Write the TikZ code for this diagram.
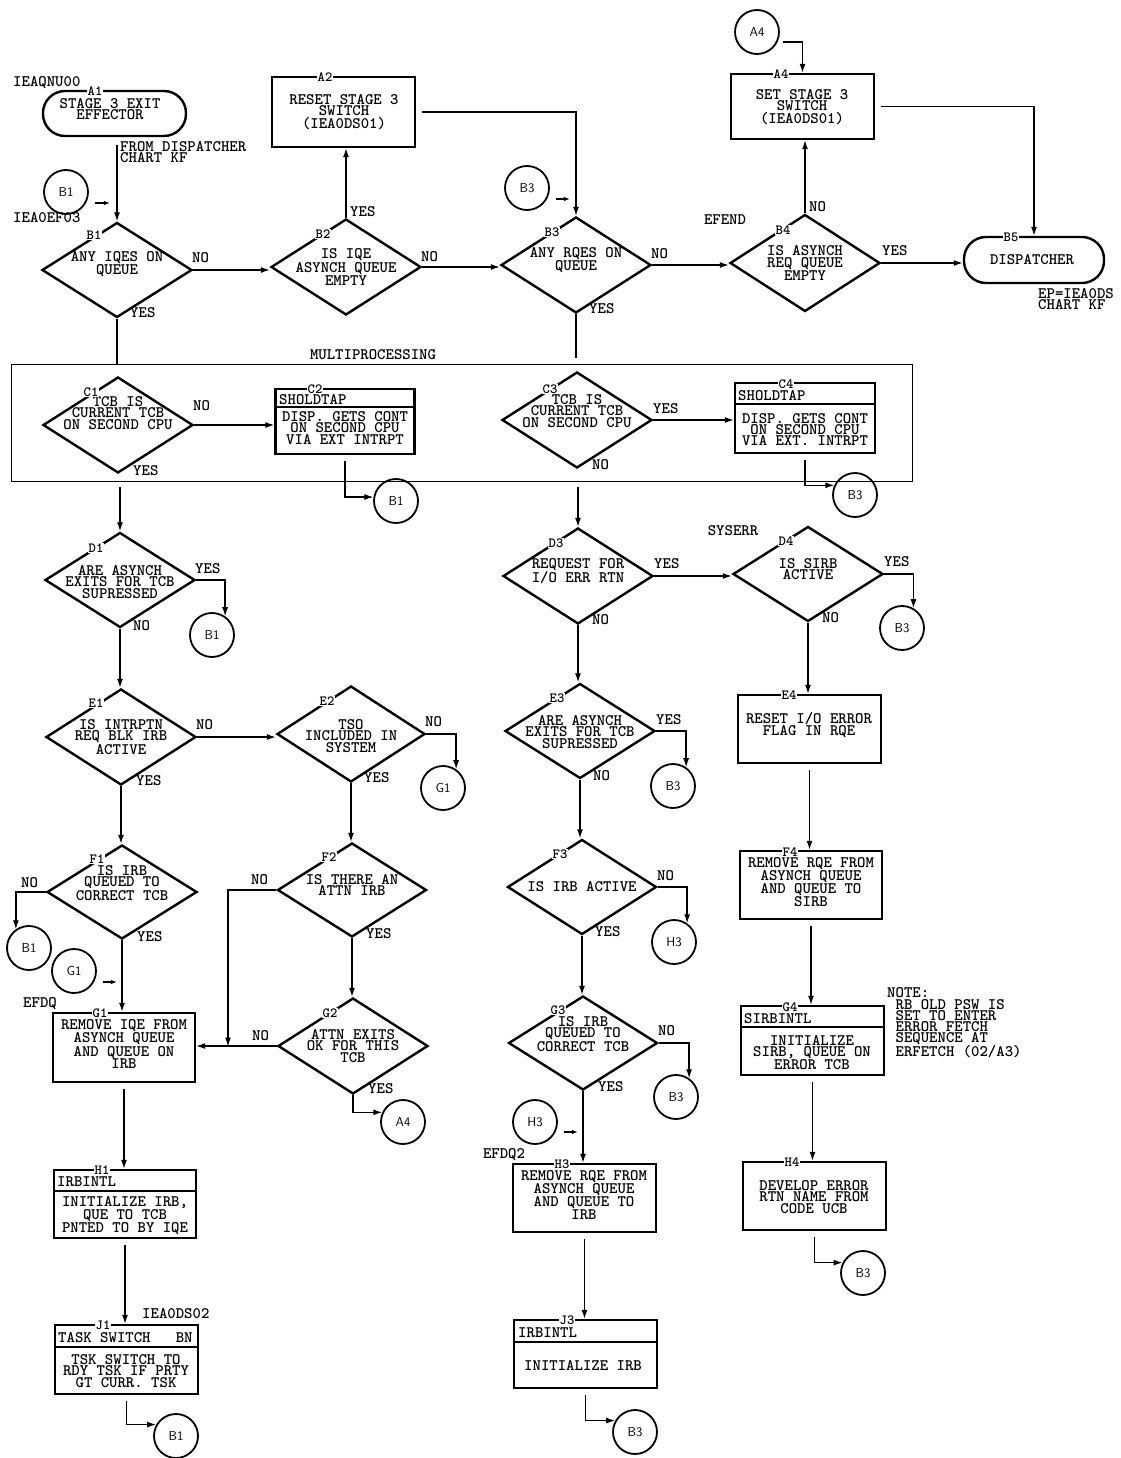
\documentclass[tikz,border=0pt]{standalone}
\usepackage{tikz}
\usetikzlibrary{
	calc,
	positioning,
	arrows.meta,
	shapes.geometric
}
\newcommand{\chartfont}{\fontsize{16}{11.2}\selectfont\ttfamily\bfseries}
\newcommand{\tagfont}{\fontsize{14}{14}\selectfont\ttfamily\bfseries}
\newcommand{\connfont}{\fontsize{13}{13}\selectfont\sffamily}

\begin{document}
\begin{tikzpicture}[
				x=1pt, y=-1pt,
				decision/.style={diamond, draw, line width=2.4pt, minimum width=150pt, minimum height=95pt, inner sep=0pt},
				process/.style={rectangle, draw, line width=2.4pt, minimum width=143pt, minimum height=68pt, inner sep=0pt},
				terminal/.style={rectangle, draw, line width=2.4pt, rounded corners=22pt, minimum width=143pt, minimum height=45pt, inner sep=0pt},
				conn/.style={circle, draw, line width=1.8pt, minimum size=44pt, inner sep=0pt, font=\connfont},
				txt/.style={align=center, inner sep=0pt, font=\chartfont},
				note/.style={align=left, inner sep=0pt, font=\chartfont},
				boxtag/.style={fill=white, inner sep=0.6pt, font=\tagfont},
				divider/.style={line width=2.4pt},
				flow/.style={line width=1.3pt},
				flowarrow/.style={flow, -{Latex[length=9pt, width=6pt]}},
				smallarrow/.style={flow, -{Latex[length=6pt, width=4.5pt]}},
				frombox/.style={shorten <=6pt}
			]
				\useasboundingbox (0,0) rectangle (1120,1458);
				% 入口和出口
				\node[terminal] (a1) at (114.5,113.5) {};
				\node[txt] (a1-text) at (110,109) {STAGE 3 EXIT\\EFFECTOR};
				\node[terminal, minimum width=140pt, minimum height=46pt] (b5) at (1034,260) {};
				\node[txt] (b5-text) at (1032,260) {DISPATCHER};
				% 第一行
				\node[process, minimum height=70pt] (a2) at (343.5,112) {};
				\node[txt] (a2-text) at (344,112) {RESET STAGE 3\\SWITCH\\(IEA0DS01)};
				\node[process, minimum height=65pt] (a4) at (802.5,106.5) {};
				\node[txt] (a4-text) at (802,107) {SET STAGE 3\\SWITCH\\(IEA0DS01)};
				\node[decision] (b1) at (117,270) {};
				\node[txt] (b1-text) at (117,264) {ANY IQES ON\\QUEUE};
				\node[decision, minimum height=96pt] (b2) at (346,267) {};
				\node[txt] (b2-text) at (346,267) {IS IQE\\ASYNCH QUEUE\\EMPTY};
				\node[decision, minimum height=96pt] (b3) at (576,265) {};
				\node[txt] (b3-text) at (576,260) {ANY RQES ON\\QUEUE};
				\node[decision, minimum height=97pt] (b4) at (805,263) {};
				\node[txt] (b4-text) at (805,263) {IS ASYNCH\\REQ QUEUE\\EMPTY};
				% 多处理框
				\node[draw, line width=1pt, minimum width=901pt, minimum height=117pt, inner sep=0pt] (mp) at (461.5,423) {};
				\node[decision, minimum height=96pt] (c1) at (118,425) {};
				\node[txt] (c1-text) at (118,413) {TCB IS\\CURRENT TCB\\ON SECOND CPU};
				\node[process, minimum width=139pt, minimum height=65pt] (c2) at (345,421.5) {};
				\draw[divider] ([yshift=-19pt]c2.north west) -- ([yshift=-19pt]c2.north east);
				\node[txt, anchor=west] (c2-head) at (279,399.5) {SHOLDTAP};
				\node[txt] (c2-text) at (345,428) {DISP. GETS CONT\\ON SECOND CPU\\VIA EXT INTRPT};
				\node[decision, minimum height=96pt] (c3) at (577,420) {};
				\node[txt] (c3-text) at (577,411) {TCB IS\\CURRENT TCB\\ON SECOND CPU};
				\node[process, minimum width=140pt, minimum height=70pt] (c4) at (805,418) {};
				\draw[divider] ([yshift=-22pt]c4.north west) -- ([yshift=-22pt]c4.north east);
				\node[txt, anchor=west] (c4-head) at (738,395.5) {SHOLDTAP};
				\node[txt] (c4-text) at (805,429.5) {DISP. GETS CONT\\ON SECOND CPU\\VIA EXT. INTRPT};
				% D 行
				\node[decision] (d1) at (120,580) {};
				\node[txt] (d1-text) at (120,582) {ARE ASYNCH\\EXITS FOR TCB\\SUPRESSED};
				\node[decision, minimum height=96pt] (d3) at (578,576) {};
				\node[txt] (d3-text) at (578,571) {REQUEST FOR\\I/O ERR RTN};
				\node[decision] (d4) at (808,574) {};
				\node[txt] (d4-text) at (808,569) {IS SIRB\\ACTIVE};
				% E 行
				\node[decision, minimum height=96pt] (e1) at (121,737) {};
				\node[txt] (e1-text) at (121,737) {IS INTRPTN\\REQ BLK IRB\\ACTIVE};
				\node[decision, minimum width=148pt, minimum height=96pt] (e2) at (351,734) {};
				\node[txt] (e2-text) at (351,736) {TSO\\INCLUDED IN\\SYSTEM};
				\node[decision] (e3) at (580,731) {};
				\node[txt] (e3-text) at (580,732) {ARE ASYNCH\\EXITS FOR TCB\\SUPRESSED};
				\node[process] (e4) at (809.5,729) {};
				\node[txt] (e4-text) at (809,725) {RESET I/O ERROR\\FLAG IN RQE};
				% F 行
				\node[decision, minimum height=94pt] (f1) at (122,892) {};
				\node[txt] (f1-text) at (122,883) {IS IRB\\QUEUED TO\\CORRECT TCB};
				\node[decision, minimum width=149pt, minimum height=94pt] (f2) at (352,890) {};
				\node[txt] (f2-text) at (352,885) {IS THERE AN\\ATTN IRB};
				\node[decision, minimum width=149pt] (f3) at (582,887) {};
				\node[txt] (f3-text) at (582,887) {IS IRB ACTIVE};
				\node[process, minimum width=142pt] (f4) at (811,885) {};
				\node[txt] (f4-text) at (811,882) {REMOVE RQE FROM\\ASYNCH QUEUE\\AND QUEUE TO\\SIRB};
				% G 行
				\node[process, minimum width=142pt, minimum height=69pt] (g1) at (124,1047.5) {};
				\node[txt] (g1-text) at (124,1044.5) {REMOVE IQE FROM\\ASYNCH QUEUE\\AND QUEUE ON\\IRB};
				\node[decision, minimum height=96pt] (g2) at (353,1046) {};
				\node[txt] (g2-text) at (353,1046) {ATTN EXITS\\OK FOR THIS\\TCB};
				\node[decision, minimum width=149pt, minimum height=94pt] (g3) at (583,1043) {};
				\node[txt] (g3-text) at (583,1034) {IS IRB\\QUEUED TO\\CORRECT TCB};
				\node[process, minimum height=69pt] (g4) at (812.5,1040.5) {};
				\draw[divider] ([yshift=-22pt]g4.north west) -- ([yshift=-22pt]g4.north east);
				\node[txt, anchor=west] (g4-head) at (744,1018.5) {SIRBINTL};
				\node[txt] (g4-text) at (812,1052.5) {INITIALIZE\\SIRB, QUEUE ON\\ERROR TCB};
				% H 行
				\node[process, minimum width=142pt] (h1) at (125,1204) {};
				\draw[divider] ([yshift=-22pt]h1.north west) -- ([yshift=-22pt]h1.north east);
				\node[txt, anchor=west] (h1-head) at (57,1181.5) {IRBINTL};
				\node[txt] (h1-text) at (125,1215.5) {INITIALIZE IRB,\\QUE TO TCB\\PNTED TO BY IQE};
				\node[process] (h3) at (584.5,1198) {};
				\node[txt] (h3-text) at (584,1195) {REMOVE RQE FROM\\ASYNCH QUEUE\\AND QUEUE TO\\IRB};
				\node[process] (h4) at (814.5,1196) {};
				\node[txt] (h4-text) at (814,1197) {DEVELOP ERROR\\RTN NAME FROM\\CODE UCB};
				% J 行
				\node[process, minimum height=69pt] (j1) at (126.5,1359.5) {};
				\draw[divider] ([yshift=-23pt]j1.north west) -- ([yshift=-23pt]j1.north east);
				\node[txt, anchor=west] (j1-head) at (58,1337.5) {TASK SWITCH~~~BN};
				\node[txt] (j1-text) at (126,1371) {TSK SWITCH TO\\RDY TSK IF PRTY\\GT CURR. TSK};
				\node[process] (j3) at (585.5,1354) {};
				\draw[divider] ([yshift=-23pt]j3.north west) -- ([yshift=-23pt]j3.north east);
				\node[txt, anchor=west] (j3-head) at (518,1332.5) {IRBINTL};
				\node[txt] (j3-text) at (583,1366) {INITIALIZE IRB};
				% 连接圆
				\node[conn] (in-a4)  at (757,32)   {A4};
				\node[conn] (in-b1)  at (66,192)   {B1};
				\node[conn] (in-b3)  at (527,188)  {B3};
				\node[conn] (out-c2) at (396,501)  {B1};
				\node[conn] (out-c4) at (855,495)  {B3};
				\node[conn] (out-d1) at (212,635)  {B1};
				\node[conn] (out-d4) at (902,628)  {B3};
				\node[conn] (out-e2) at (443,788)  {G1};
				\node[conn] (out-e3) at (673,786)  {B3};
				\node[conn] (out-f1) at (29,948)   {B1};
				\node[conn] (in-g1)  at (74,971)   {G1};
				\node[conn] (out-f3) at (674,942)  {H3};
				\node[conn] (out-g2) at (403,1122) {A4};
				\node[conn] (out-g3) at (676,1097) {B3};
				\node[conn] (in-h3)  at (535,1122) {H3};
				\node[conn] (out-h4) at (863,1273) {B3};
				\node[conn] (out-j1) at (176,1436) {B1};
				\node[conn] (out-j3) at (635,1432) {B3};
				% 旁注
				\node[txt, anchor=west] (lbl-qnu) at (13,83) {IEAQNU00};
				\node[note, anchor=west] (lbl-from) at (120,152) {FROM DISPATCHER\\CHART KF};
				\node[txt, anchor=west] (lbl-ef03) at (13,218) {IEA0EF03};
				\node[txt] (lbl-mp) at (373,355) {MULTIPROCESSING};
				\node[txt] (lbl-efend) at (725,220) {EFEND};
				\node[note, anchor=west] (lbl-ep) at (1038,299) {EP=IEA0DS\\CHART KF};
				\node[txt] (lbl-syserr) at (733,531) {SYSERR};
				\node[txt] (lbl-efdq) at (40,1004) {EFDQ};
				\node[note, anchor=west] (lbl-note) at (887,1023) {NOTE:\\\phantom{N}RB OLD PSW IS\\\phantom{N}SET TO ENTER\\\phantom{N}ERROR FETCH\\\phantom{N}SEQUENCE AT\\\phantom{N}ERFETCH (02/A3)};
				\node[txt] (lbl-efdq2) at (504,1155) {EFDQ2};
				\node[txt, anchor=west] (lbl-ds02) at (142,1314) {IEA0DS02};
				% 连线
				\draw[flowarrow, shorten <=8pt] (a1.south -| b1.north) -- (b1.north);
				\draw[smallarrow, shorten <=6pt] ([yshift=-11pt]in-b1.east) -- ++(21,0);
				\draw[flowarrow] (b1.east) -- (b1.east -| b2.west);
				\draw[flowarrow] (b2.north) -- (b2.north |- a2.south);
				\draw[flowarrow, frombox] (a2.east) -| (b3.north);
				\draw[smallarrow, shorten <=6pt] ([yshift=-11pt]in-b3.east) -- ++(20,0);
				\draw[flowarrow] (b2.east) -- (b2.east -| b3.west);
				\draw[flowarrow] (b3.east) -- (b3.east -| b4.west);
				\draw[flowarrow] (b4.north) -- (b4.north |- a4.south);
				\draw[flowarrow, shorten <=3pt] ([yshift=-10pt]in-a4.east) -| (a4.north);
				\draw[flowarrow, frombox] (a4.east) -| (b5.north);
				\draw[flowarrow] (b4.east) -- (b4.east -| b5.west);
				\draw[flow] (b1.south) -- (b1.south |- mp.north);
				\draw[flow] (b3.south) -- ($(b3.south |- mp.north)+(0,-6)$);
				\draw[flowarrow] (c1.east) -- (c1.east -| c2.west);
				\draw[flowarrow] (c3.east) -- (c3.east -| c4.west);
				\draw[flowarrow, frombox] (c2.south) |- (out-c2.170);
				\draw[flowarrow, frombox] (c4.south) |- (out-c4.155);
				\draw[flowarrow, shorten <=5pt] (mp.south -| d1.north) -- (d1.north);
				\draw[flowarrow, shorten <=5pt] (mp.south -| d3.north) -- (d3.north);
				\draw[flowarrow] (d1.east) -| (out-d1.55);
				\draw[flowarrow] (d1.south) -- (d1.south |- e1.north);
				\draw[flowarrow] (d3.east) -- (d3.east -| d4.west);
				\draw[flowarrow] (d4.east) -| (out-d4.60);
				\draw[flowarrow] (d3.south) -- (d3.south |- e3.north);
				\draw[flowarrow] (d4.south) -- (d4.south |- e4.north);
				\draw[flowarrow] (e1.east) -- (e1.east -| e2.west);
				\draw[flowarrow] (e2.east) -| (out-e2.55);
				\draw[flowarrow] (e2.south) -- (e2.south |- f2.north);
				\draw[flowarrow] (e3.east) -| (out-e3.55);
				\draw[flowarrow] (e3.south) -- (e3.south |- f3.north);
				\draw[flowarrow, frombox] (e4.south) -- (e4.south |- f4.north);
				\draw[flowarrow] (e1.south) -- (e1.south |- f1.north);
				\draw[flowarrow] (f1.west) -| (out-f1.125);
				\draw[flowarrow] (f1.south) -- (f1.south |- g1.north);
				\draw[smallarrow, shorten <=6pt] ([yshift=-11pt]in-g1.east) -- ++(20,0);
				\coordinate (merge-g1) at (228,1046.5);
				\draw[flowarrow] (f2.west) -| (merge-g1);
				\draw[flowarrow] (f2.south) -- (f2.south |- g2.north);
				\draw[flowarrow] (g2.west) -- (g2.west -| g1.east);
				\draw[flowarrow] (g2.south) |- (out-g2.155);
				\draw[flowarrow, frombox] (g1.south) -- (g1.south |- h1.north);
				\draw[flowarrow] (f3.east) -| (out-f3.55);
				\draw[flowarrow] (f3.south) -- (f3.south |- g3.north);
				\draw[flowarrow, frombox] (f4.south) -- (f4.south |- g4.north);
				\draw[flowarrow] (g3.east) -| (out-g3.55);
				\draw[flowarrow] (g3.south) -- (g3.south |- h3.north);
				\draw[smallarrow, shorten <=6pt] ([yshift=-10pt]in-h3.east) -- ++(20,0);
				\draw[flowarrow, frombox] (g4.south) -- (g4.south |- h4.north);
				\draw[flowarrow, frombox] (h1.south) -- (h1.south |- j1.north);
				\draw[flowarrow, frombox] (h3.south) -- (h3.south |- j3.north);
				\draw[flowarrow, frombox] (h4.south) |- (out-h4.153);
				\draw[flowarrow, frombox] (j1.south) |- (out-j1.150);
				\draw[flowarrow, frombox] (j3.south) |- (out-j3.150);
				% 是/否
				\node[txt, anchor=west] (b1-no)  at (192,258)  {NO};
				\node[txt, anchor=west] (b1-yes) at (130,313)  {YES};
				\node[txt, anchor=west] (b2-yes) at (350,212)  {YES};
				\node[txt, anchor=west] (b2-no)  at (421,257)  {NO};
				\node[txt, anchor=west] (b3-no)  at (651,254)  {NO};
				\node[txt, anchor=west] (b3-yes) at (589,309)  {YES};
				\node[txt, anchor=west] (b4-no)  at (809,207)  {NO};
				\node[txt, anchor=west] (b4-yes) at (882,251)  {YES};
				\node[txt, anchor=west] (c1-no)  at (193,406)  {NO};
				\node[txt, anchor=west] (c1-yes) at (133,471)  {YES};
				\node[txt, anchor=west] (c3-yes) at (653,409)  {YES};
				\node[txt, anchor=west] (c3-no)  at (592,465)  {NO};
				\node[txt, anchor=west] (d1-yes) at (195,569)  {YES};
				\node[txt, anchor=west] (d1-no)  at (133,626)  {NO};
				\node[txt, anchor=west] (d3-yes) at (654,564)  {YES};
				\node[txt, anchor=west] (d3-no)  at (592,620)  {NO};
				\node[txt, anchor=west] (d4-yes) at (884,562)  {YES};
				\node[txt, anchor=west] (d4-no)  at (822,618)  {NO};
				\node[txt, anchor=west] (e1-no)  at (196,725)  {NO};
				\node[txt, anchor=west] (e1-yes) at (136,781)  {YES};
				\node[txt, anchor=west] (e2-no)  at (425,722)  {NO};
				\node[txt, anchor=west] (e2-yes) at (364,778)  {YES};
				\node[txt, anchor=west] (e3-yes) at (656,720)  {YES};
				\node[txt, anchor=west] (e3-no)  at (593,776)  {NO};
				\node[txt, anchor=west] (f1-no)  at (21,883)   {NO};
				\node[txt, anchor=west] (f1-yes) at (137,937)  {YES};
				\node[txt, anchor=west] (f2-no)  at (251,880)  {NO};
				\node[txt, anchor=west] (f2-yes) at (366,934)  {YES};
				\node[txt, anchor=west] (f3-no)  at (657,876)  {NO};
				\node[txt, anchor=west] (f3-yes) at (595,932)  {YES};
				\node[txt, anchor=west] (g2-no)  at (252,1036) {NO};
				\node[txt, anchor=west] (g2-yes) at (368,1089) {YES};
				\node[txt, anchor=west] (g3-no)  at (658,1031) {NO};
				\node[txt, anchor=west] (g3-yes) at (598,1087) {YES};
				% 块标记
				\node[boxtag] (a1-tag) at (95,91)    {A1};
				\node[boxtag] (a2-tag) at (325,77)   {A2};
				\node[boxtag] (a4-tag) at (781,74)   {A4};
				\node[boxtag] (b1-tag) at (94,235)   {B1};
				\node[boxtag] (b2-tag) at (323,234)  {B2};
				\node[boxtag] (b3-tag) at (552,232)  {B3};
				\node[boxtag] (b4-tag) at (783,230)  {B4};
				\node[boxtag] (b5-tag) at (1011,237) {B5};
				\node[boxtag] (c1-tag) at (91,392)   {C1};
				\node[boxtag] (c2-tag) at (315,389)  {C2};
				\node[boxtag] (c3-tag) at (550,389)  {C3};
				\node[boxtag] (c4-tag) at (786,384)  {C4};
				\node[boxtag] (d1-tag) at (96,548)   {D1};
				\node[boxtag] (d3-tag) at (556,543)  {D3};
				\node[boxtag] (d4-tag) at (786,541)  {D4};
				\node[boxtag] (e1-tag) at (96,703)   {E1};
				\node[boxtag] (e2-tag) at (327,701)  {E2};
				\node[boxtag] (e3-tag) at (557,698)  {E3};
				\node[boxtag] (e4-tag) at (789,695)  {E4};
				\node[boxtag] (f1-tag) at (97,859)   {F1};
				\node[boxtag] (f2-tag) at (329,857)  {F2};
				\node[boxtag] (f3-tag) at (560,854)  {F3};
				\node[boxtag] (f4-tag) at (790,852)  {F4};
				\node[boxtag] (g1-tag) at (100,1013) {G1};
				\node[boxtag] (g2-tag) at (330,1013) {G2};
				\node[boxtag] (g3-tag) at (558,1010) {G3};
				\node[boxtag] (g4-tag) at (790,1007) {G4};
				\node[boxtag] (h1-tag) at (102,1170) {H1};
				\node[boxtag] (h3-tag) at (562,1164) {H3};
				\node[boxtag] (h4-tag) at (792,1162) {H4};
				\node[boxtag] (j1-tag) at (103,1325) {J1};
				\node[boxtag] (j3-tag) at (567,1320) {J3};
			\end{tikzpicture}
\end{document}
